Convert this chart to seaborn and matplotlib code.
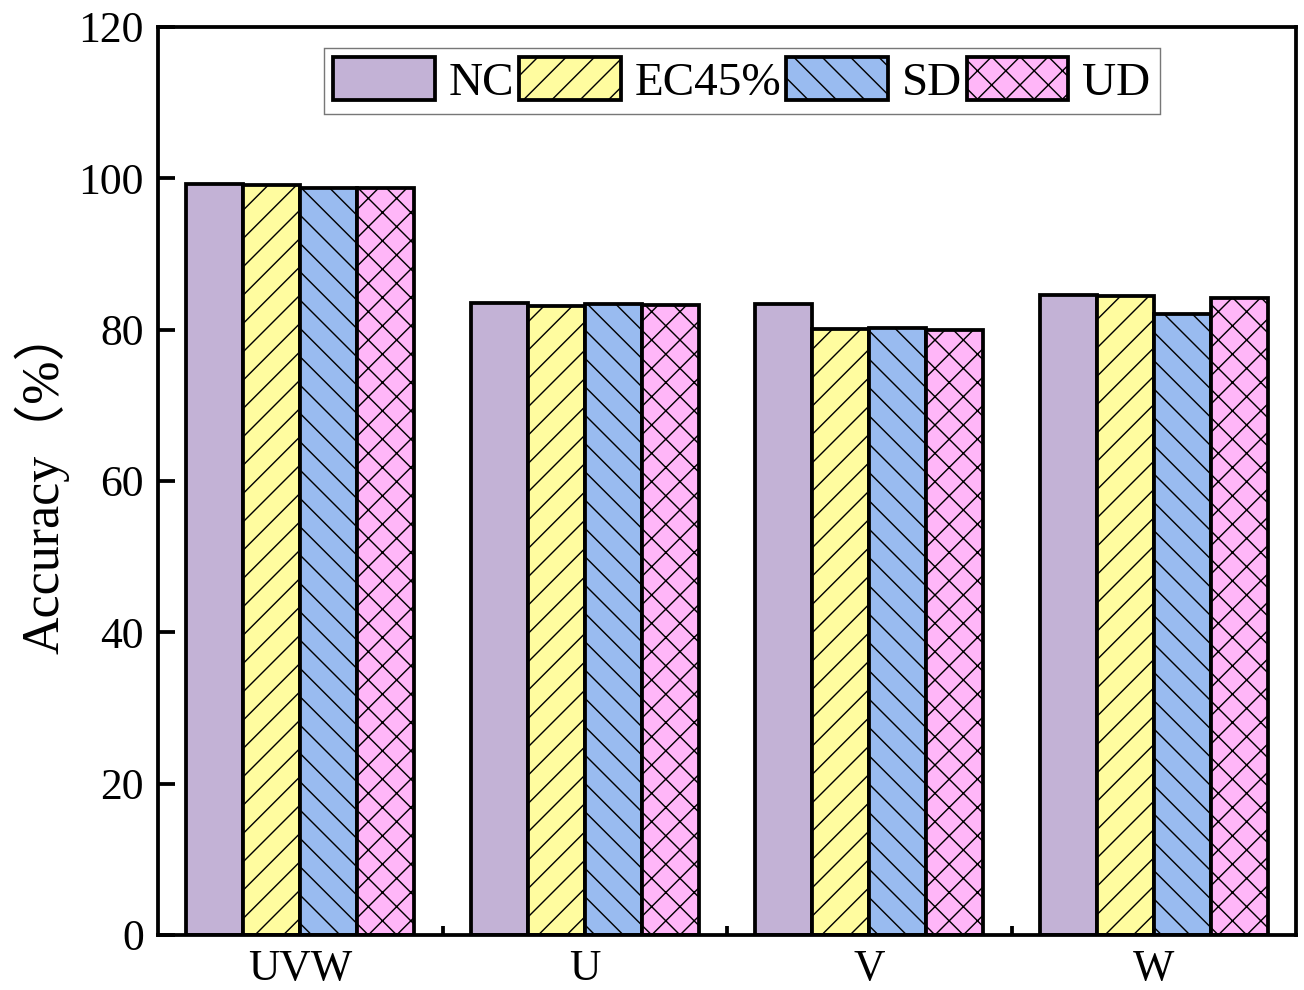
import pandas as pd
import seaborn as sns
import matplotlib.pyplot as plt
from matplotlib.ticker import FixedLocator, NullFormatter

groups = ['UVW', 'U', 'V', 'W']
methods = ['NC', 'EC45%', 'SD', 'UD']
nc = [99.25, 83.48, 83.39, 84.53]
ec = [99.10, 83.08, 80.03, 84.44]
sd = [98.76, 83.35, 80.25, 82.07]
ud = [98.68, 83.20, 79.95, 84.17]
colors = ['#C3B2D6', '#FFFC9F', '#99BBF0', '#FFB6F8']
hatches = ['', '//', '\\\\', 'xx']

df = pd.DataFrame({
    'group': groups * 4,
    'method': [m for m in methods for _ in groups],
    'acc': nc + ec + sd + ud,
})

sns.set_style('ticks')
plt.rcParams['font.family'] = ['Liberation Serif', 'Noto Sans CJK SC']
plt.rcParams['hatch.linewidth'] = 0.6
plt.rcParams['hatch.color'] = 'black'
plt.rcParams['text.color'] = 'black'
plt.rcParams['axes.labelcolor'] = 'black'
plt.rcParams['xtick.color'] = 'black'
plt.rcParams['ytick.color'] = 'black'
plt.rcParams['axes.edgecolor'] = 'black'

# dpi 170 so the hatch tile matches the sparse hatching of the original
dpi = 170
fig = plt.figure(figsize=(1304 / dpi, 990 / dpi), dpi=dpi)
ax = fig.add_axes([158 / 1304, 1 - 935 / 990, (1296 - 158) / 1304, (935 - 27) / 990])

sns.barplot(data=df, x='group', y='acc', hue='method', palette=colors,
            edgecolor='black', linewidth=1.6, width=0.8, saturation=1,
            legend=False, ax=ax)

for cont, h in zip(ax.containers, hatches):
    for bar in cont:
        bar.set_hatch(h)

ax.set_xlim(-0.5, 3.5)
ax.set_ylim(0, 120)
ax.set_yticks(range(0, 121, 20))
ax.tick_params(axis='y', direction='in', length=7, width=1.6, labelsize=18.5, pad=6)
ax.xaxis.set_major_locator(FixedLocator([0.5, 1.5, 2.5]))
ax.xaxis.set_major_formatter(NullFormatter())
ax.xaxis.set_minor_locator(FixedLocator([0, 1, 2, 3]))
ax.set_xticklabels(groups, minor=True)
ax.tick_params(axis='x', which='major', direction='in', length=4, width=1.6)
ax.tick_params(axis='x', which='minor', length=0, labelsize=18.5, pad=6)
ax.set_xlabel('')
ax.set_ylabel('Accuracy（%）', fontsize=22, labelpad=4)
for s in ax.spines.values():
    s.set_linewidth(1.6)

leg = ax.legend(handles=ax.containers, labels=methods, ncol=4,
                loc='upper center', bbox_to_anchor=(0.513, 0.977),
                fontsize=20, frameon=True, fancybox=False, edgecolor='#555555',
                handlelength=2.15, handleheight=1.0, handletextpad=0.3,
                columnspacing=0.1, borderpad=0.2, borderaxespad=0)
leg.get_frame().set_linewidth(0.6)

fig.savefig('out.png', dpi=dpi)
